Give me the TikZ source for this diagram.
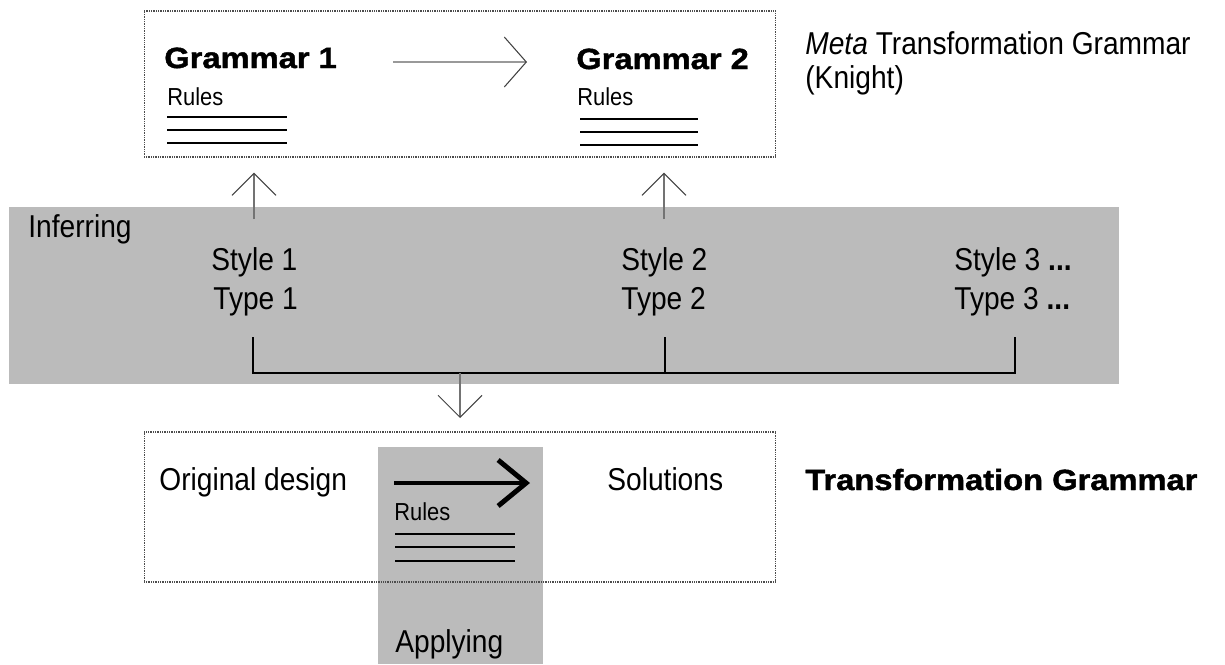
\documentclass[tikz,border=0pt]{standalone}
\usepackage{fontspec}
\setmainfont{Liberation Sans}[FakeStretch=0.89]
\newfontfamily\heavyfont{Liberation Sans}[FakeStretch=1.12, FakeBold=1.5]
\usepackage{tikz}
\usetikzlibrary{arrows.meta}
\definecolor{bandgray}{HTML}{BBBBBB}
\tikzset{
	txt/.style={inner sep=0pt, anchor=base west, font=\fontsize{18}{21}\selectfont},
	small/.style={inner sep=0pt, anchor=base west, font=\fontsize{14}{17}\selectfont},
	heavy/.style={inner sep=0pt, anchor=base west, font=\heavyfont\bfseries\fontsize{16.6}{19}\selectfont},
	dotbox/.style={draw=black!70, line width=0.6pt, dash pattern=on 0.5pt off 0.5pt, minimum width=12.64cm, inner sep=0pt},
	thinarrow/.style={draw=black!55, line width=0.8pt, -{Straight Barb[length=0.44cm, width=0.88cm, line width=0.6pt, color=black!75]}},
}

\begin{document}
\begin{tikzpicture}[x=0.02cm, y=-0.02cm]
		%%%%% START %%%%%
		\useasboundingbox (0, 0) rectangle (1225, 664);
		
		\fill[bandgray] (9, 207) rectangle (1119, 384);
		\node[dotbox, minimum height=2.92cm] (metabox) at (460, 84) {};
		
		\node[heavy] (gone) at (164, 68) {Grammar 1};
		\node[small] (rone) at (167, 105) {Rules};
		\draw[line width=0.8pt] (167, 117) -- (287, 117);
		\draw[line width=0.8pt] (167, 130) -- (287, 130);
		\draw[line width=0.8pt] (167, 143) -- (287, 143);
		
		\node[heavy] (gtwo) at (576, 69) {Grammar 2};
		\node[small] (rtwo) at (577, 105) {Rules};
		\draw[line width=0.8pt] (580, 119) -- (698, 119);
		\draw[line width=0.8pt] (580, 132) -- (698, 132);
		\draw[line width=0.8pt] (580, 145) -- (698, 145);
		
		\coordinate (gfrom) at (393, 62);
		\coordinate (gto) at (527, 62);
		\draw[draw=black!40, line width=1.2pt, -{Straight Barb[length=0.44cm, width=1.0cm, line width=0.6pt, color=black!75]}] (gfrom) -- (gto);
		
		\node[txt] (meta) at (805, 54) {\textit{Meta} Transformation Grammar};
		\node[txt] (knight) at (805, 88) {(Knight)};
		
		\coordinate (upone) at (254, 219);
		\coordinate (uptwo) at (664, 219);
		\draw[thinarrow, shorten >=0.3cm] (upone) -- (upone |- metabox.south);
		\draw[thinarrow, shorten >=0.3cm] (uptwo) -- (uptwo |- metabox.south);
		
		\node[txt] (infer) at (28, 237) {Inferring};
		\node[txt] (sone) at (211, 270) {Style 1};
		\node[txt] (tone) at (213, 309) {Type 1};
		\node[txt] (stwo) at (621, 270) {Style 2};
		\node[txt] (ttwo) at (621, 309) {Type 2};
		\node[txt] (sthree) at (954, 270) {Style 3 {\bfseries ...}};
		\node[txt] (tthree) at (954, 309) {Type 3 {\bfseries ...}};
		
		\coordinate (bone) at (253, 337);
		\coordinate (btwo) at (665, 337);
		\coordinate (bthree) at (1015, 337);
		\draw[line width=0.7pt] (bone) |- (bthree |- 0, 373) -- (bthree);
		\draw[line width=0.7pt] (btwo) -- ++(0, 36);
		
		\coordinate (join) at (460, 373);
		
		\fill[bandgray] (378, 447) rectangle (543, 664);
		\node[dotbox, minimum height=3.0cm] (gramboxb) at (460, 507) {};
		\draw[thinarrow, shorten >=0.27cm] (join) -- (join |- gramboxb.north);
		
		\node[txt] (orig) at (159, 490) {Original design};
		\coordinate (afrom) at (394, 483);
		\coordinate (ato) at (530, 483);
		\draw[line width=2.8pt, -{Straight Barb[length=0.56cm, width=0.92cm, line width=2.8pt]}] (afrom) -- (ato);
		\node[small] (rthree) at (394, 520) {Rules};
		\draw[line width=0.8pt] (395, 534) -- (515, 534);
		\draw[line width=0.8pt] (395, 547) -- (515, 547);
		\draw[line width=0.8pt] (395, 561) -- (515, 561);
		\node[txt] (sol) at (607, 490) {Solutions};
		\node[heavy] (tgram) at (805, 490) {Transformation Grammar};
		\node[txt] (apply) at (395, 652) {Applying};
		
		%%%%% END %%%%%
\end{tikzpicture}
\end{document}
